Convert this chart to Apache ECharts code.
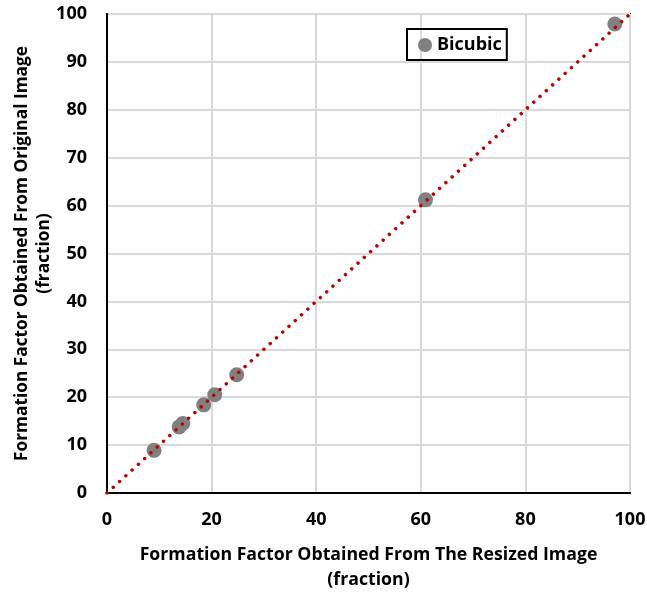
<!DOCTYPE html>
<html><head><meta charset="utf-8">
<script src="https://cdn.jsdelivr.net/npm/echarts@6/dist/echarts.min.js"></script>
<style>html,body{margin:0;padding:0;background:#fff}#c{width:647px;height:594px}</style>
</head><body><div id="c"></div>
<script>
const xVals = [9.0, 13.8, 14.5, 18.5, 20.6, 24.8, 60.9, 97.1];
const yVals = [8.9, 13.8, 14.5, 18.4, 20.5, 24.7, 61.2, 97.9];
const lineX = [0, 100];
const lineY = [0, 100];
const seriesName = 'Bicubic';
const xTitle = 'Formation Factor Obtained From The Resized Image\n(fraction)';
const yTitle = 'Formation Factor Obtained From Original Image\n(fraction)';

const FONT = 'Open Sans';
const chart = echarts.init(document.getElementById('c'));
chart.setOption({
  animation: false,
  backgroundColor: '#fff',
  grid: {left: 107, right: 17, top: 14, bottom: 101, show: true, borderColor: '#000', borderWidth: 2,
         containLabel: false, outerBoundsMode: 'none'},
  legend: {
    data: [seriesName], left: 407, top: 29, orient: 'vertical',
    borderColor: '#000', borderWidth: 2, padding: [7, 5, 6, 11],
    itemWidth: 14, itemHeight: 14, itemGap: 6,
    textStyle: {fontFamily: FONT, fontWeight: 'bold', fontSize: 18, color: '#000'}
  },
  xAxis: {
    type: 'value', min: 0, max: 100, interval: 20,
    axisLine: {show: true, lineStyle: {color: '#000', width: 2}},
    axisTick: {show: false},
    splitLine: {show: true, lineStyle: {color: '#d9d9d9', width: 2}},
    axisLabel: {fontFamily: FONT, fontWeight: 'bold', fontSize: 18, color: '#000', margin: 18},
    name: xTitle, nameLocation: 'middle', nameGap: 49, nameMoveOverlap: false,
    nameTextStyle: {fontFamily: FONT, fontWeight: 'bold', fontSize: 17.7, color: '#000', lineHeight: 25, verticalAlign: 'top'}
  },
  yAxis: {
    type: 'value', min: 0, max: 100, interval: 10,
    axisLine: {show: true, lineStyle: {color: '#000', width: 2}},
    axisTick: {show: false},
    splitLine: {show: true, lineStyle: {color: '#d9d9d9', width: 2}},
    axisLabel: {fontFamily: FONT, fontWeight: 'bold', fontSize: 18, color: '#000', margin: 20},
    name: yTitle, nameLocation: 'middle', nameGap: 52, nameMoveOverlap: false,
    nameTextStyle: {fontFamily: FONT, fontWeight: 'bold', fontSize: 17.3, color: '#000', lineHeight: 22, verticalAlign: 'bottom'}
  },
  series: [
    {
      name: seriesName, type: 'scatter', symbol: 'circle', symbolSize: 15,
      itemStyle: {color: '#808080', opacity: 1},
      data: xVals.map((x, i) => [x, yVals[i]]), z: 2
    },
    {
      name: 'trend', type: 'line', showSymbol: false, symbol: 'none',
      data: lineX.map((x, i) => [x, lineY[i]]),
      lineStyle: {color: '#c00000', width: 3.5, type: [0.01, 8.5], cap: 'round'},
      z: 3, silent: true
    }
  ]
});
</script></body></html>
